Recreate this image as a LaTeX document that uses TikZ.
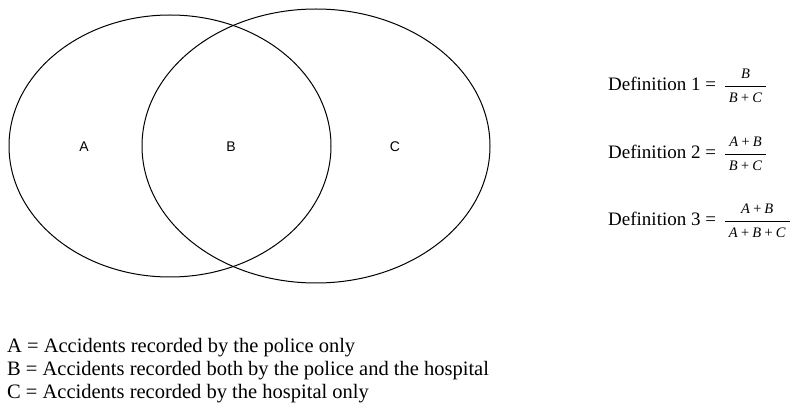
\documentclass[tikz,border=0pt]{standalone}
\usepackage{amsmath}
\usepackage{fontspec}
\setmainfont{Liberation Serif}
\setsansfont{Liberation Sans}
\usepackage{tikz}
\newcommand{\ratio}[2]{$\,\dfrac{\text{\fontsize{14.5}{16}\selectfont\itshape\;#1\;}}{\text{\fontsize{14.5}{16}\selectfont\itshape\;#2\;}}$}

\begin{document}
\begin{tikzpicture}[
    x=1pt, y=-1pt,
    set/.style={draw, line width=1pt},
    region/.style={font=\sffamily\fontsize{14}{16}\selectfont},
    defn/.style={anchor=west, font=\fontsize{19}{22}\selectfont, inner sep=0pt},
    key/.style={anchor=west, font=\fontsize{20.5}{23}\selectfont, inner sep=0pt}
]
\useasboundingbox (0,0) rectangle (793,406);
% the two sets
\draw[set] (170,146) ellipse [x radius=161, y radius=131];
\draw[set] (316,146) ellipse [x radius=174, y radius=137];
\node[region] (a) at (84,147) {A};
\node[region] (b) at (231,147) {B};
\node[region] (c) at (395,147) {C};
% the three definitions
\node[defn] (d1) at (608,86) {Definition 1 = \ratio{B}{B\,+\,C}};
\node[defn] (d2) at (608,154) {Definition 2 = \ratio{A\,+\,B}{B\,+\,C}};
\node[defn] (d3) at (608,221) {Definition 3 = \ratio{A\,+\,B}{A\,+\,B\,+\,C}};
% key
\node[key] (ka) at (7,348) {A = Accidents recorded by the police only};
\node[key] (kb) at (7,371) {B = Accidents recorded both by the police and the hospital};
\node[key] (kc) at (7,394) {C = Accidents recorded by the hospital only};
\end{tikzpicture}
\end{document}
